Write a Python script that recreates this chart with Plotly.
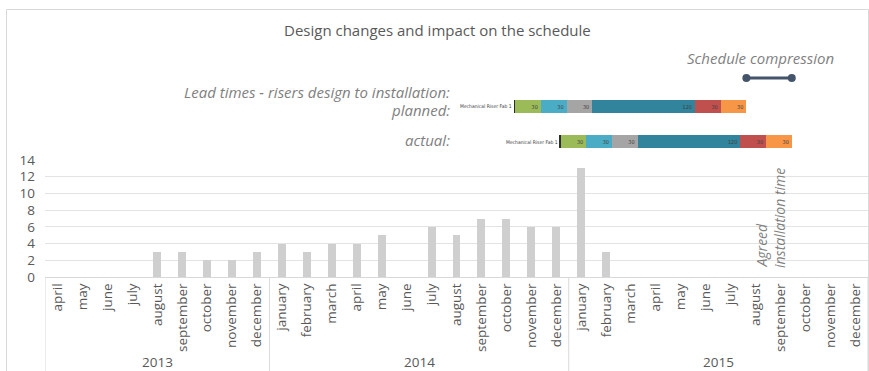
import plotly.graph_objects as go

W, H = 869, 371

# ---- monthly design changes -------------------------------------------------
month_names = ["january", "february", "march", "april", "may", "june", "july",
               "august", "september", "october", "november", "december"]
years = ["2013"] * 9 + ["2014"] * 12 + ["2015"] * 12
months = month_names[3:] + month_names + month_names
design_changes = [0, 0, 0, 0, 3, 3, 2, 2, 3,
                  4, 3, 4, 4, 5, 0, 6, 5, 7, 7, 6, 6,
                  13, 3, 0, 0, 0, 0, 0, 0, 0, 0, 0, 0]
year_labels = ["2013", "2014", "2015"]

# ---- lead times: risers design to installation (days) -----------------------
lead_rows = ["actual", "planned"]
lead_start = [601, 548]                    # day on which the sequence begins
stage_days = [1, 30, 30, 30, 120, 30, 30]  # same sequence for both rows
stage_colors = ["#2B2B2B", "#9BBB59", "#4BACC6", "#A5A5A5",
                "#31849B", "#C0504D", "#F79646"]
lead_label = "Mechanical Riser Fab"
day_span = [0, 961]

FONT = "Open Sans"
GREY = "#595959"
LIGHT = "#7F7F7F"
GRID = "#E3E3E3"
SMALL = dict(family="DejaVu Sans Condensed", size=5, color="#404040")


def px_x(p):
    return p / W


def px_y(p):
    return 1 - p / H


keys = [f"{y}-{m}" for y, m in zip(years, months)]

fig = go.Figure()

fig.add_trace(go.Bar(
    x=keys, y=design_changes,
    marker=dict(color="#CFCFCF", line=dict(width=0)),
    width=0.32, xaxis="x", yaxis="y", showlegend=False,
))

# invisible lead-in so each row starts on its own day
fig.add_trace(go.Bar(
    y=lead_rows, x=lead_start, orientation="h",
    marker=dict(color="rgba(0,0,0,0)", line=dict(width=0)), width=0.38,
    xaxis="x2", yaxis="y2", showlegend=False, hoverinfo="skip",
))
for i, (d, c) in enumerate(zip(stage_days, stage_colors)):
    fig.add_trace(go.Bar(
        y=lead_rows, x=[d, d], orientation="h",
        marker=dict(color=c, line=dict(width=0)), width=0.38,
        text=[str(d), str(d)] if i > 0 else None,
        textposition="inside" if i > 0 else "none",
        insidetextanchor="end", textangle=0,
        textfont=dict(SMALL, size=5.5),
        xaxis="x2", yaxis="y2", showlegend=False,
    ))

for row, start in zip(lead_rows, lead_start):
    fig.add_annotation(
        x=start, y=row, xref="x2", yref="y2", xanchor="right",
        yanchor="middle", text=f"{lead_label} {stage_days[0]}",
        showarrow=False, font=SMALL,
    )

# schedule compression: planned finish -> actual finish
planned_end = lead_start[1] + sum(stage_days)
actual_end = lead_start[0] + sum(stage_days)
fig.add_trace(go.Scatter(
    x=[planned_end, actual_end], y=[0.5, 0.5], mode="lines+markers",
    line=dict(color="#44546A", width=3),
    marker=dict(size=8, color="#44546A"),
    xaxis="x2", yaxis="y3", showlegend=False,
))

x_dom = [px_x(45), px_x(868)]
fig.update_layout(
    width=W, height=H,
    margin=dict(l=0, r=0, t=0, b=0, autoexpand=False),
    paper_bgcolor="white", plot_bgcolor="white",
    barmode="stack",
    font=dict(family=FONT, color=GREY, size=13),
    xaxis=dict(
        domain=x_dom, type="category", anchor="y", automargin=False,
        tickmode="array", tickvals=keys, ticktext=months,
        tickangle=-90, tickfont=dict(size=13.5, color=GREY),
        ticklabelstandoff=0,
        showline=True, linecolor="#D9D9D9", linewidth=1,
        showgrid=False, ticks="", range=[-0.5, len(keys) - 0.5],
    ),
    yaxis=dict(
        domain=[px_y(277), px_y(160)], range=[0, 14], dtick=2,
        automargin=False,
        showgrid=True, gridcolor=GRID, gridwidth=1,
        zeroline=False, showline=False, ticks="",
        tickfont=dict(size=13.5, color=GREY), ticklabelstandoff=9,
    ),
    xaxis2=dict(
        domain=x_dom, range=day_span, anchor="y2", visible=False,
        automargin=False,
    ),
    yaxis2=dict(
        domain=[px_y(159), px_y(89)], type="category",
        categoryorder="array", categoryarray=lead_rows,
        anchor="x2", visible=False, automargin=False,
    ),
    yaxis3=dict(
        domain=[px_y(90), px_y(66)], range=[0, 1],
        anchor="x2", visible=False, automargin=False,
    ),
)

# year groups under the month labels, with dividers between them
start = 0
for yr in year_labels:
    n = years.count(yr)
    fig.add_annotation(
        x=start + (n - 1) / 2, y=px_y(362), xref="x", yref="paper",
        xanchor="center", yanchor="middle", text=yr, showarrow=False,
        font=dict(size=13.5, color=GREY),
    )
    fig.add_shape(type="line", xref="x", yref="paper",
                  x0=start - 0.5, x1=start - 0.5, y0=px_y(277), y1=px_y(372),
                  line=dict(color="#D9D9D9", width=1))
    start += n
fig.add_shape(type="line", xref="x", yref="paper",
              x0=start - 0.5, x1=start - 0.5, y0=px_y(277), y1=px_y(372),
              line=dict(color="#D9D9D9", width=1))

fig.add_annotation(
    x=px_x(437), y=px_y(30), xref="paper", yref="paper",
    xanchor="center", yanchor="middle",
    text="Design changes and impact on the schedule", showarrow=False,
    font=dict(size=15, color=GREY),
)
italic = dict(size=15, color=LIGHT, family=FONT)
fig.add_annotation(
    x=px_x(760), y=px_y(58), xref="paper", yref="paper",
    xanchor="center", yanchor="middle",
    text="<i>Schedule compression</i>", showarrow=False, font=italic,
)
for txt, yy in [("Lead times - risers design to installation:", 92),
                ("planned:", 110), ("actual:", 140)]:
    fig.add_annotation(
        x=px_x(452), y=px_y(yy), xref="paper", yref="paper",
        xanchor="right", yanchor="middle",
        text=f"<i>{txt}</i>", showarrow=False, font=italic,
    )
# vertical note, two lines set close together
for txt, xx in [("Agreed", 761), ("installation time", 779)]:
    fig.add_annotation(
        x=px_x(xx), y=px_y(270), xref="paper", yref="paper",
        xanchor="center", yanchor="bottom",
        text=f"<i>{txt}</i>", textangle=-90,
        showarrow=False, font=dict(italic, size=14),
    )

# chart frame
fig.add_shape(type="rect", xref="paper", yref="paper",
              x0=px_x(6.5), y0=px_y(372), x1=px_x(868.5), y1=px_y(9.5),
              line=dict(color="#D9D9D9", width=1), layer="below")

fig.write_html("out.html")
